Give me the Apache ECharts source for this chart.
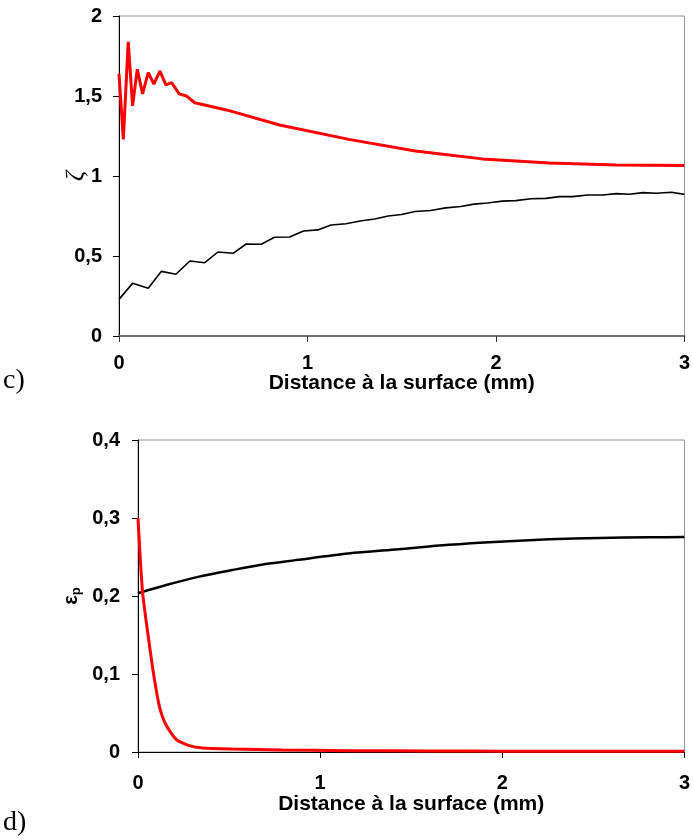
<!DOCTYPE html>
<html>
<head>
<meta charset="utf-8">
<script src="https://cdn.jsdelivr.net/npm/echarts@6/dist/echarts.min.js"></script>
<style>
html,body{margin:0;padding:0;background:#fff;}
#chart{width:693px;height:839px;}
</style>
</head>
<body>
<div id="chart"></div>
<script>
// ---- Data ----
// Chart c) : zeta vs distance (mm)
const zetaRedX = [0, 0.023, 0.049, 0.072, 0.097, 0.125, 0.155, 0.185, 0.217, 0.249, 0.28, 0.319, 0.358, 0.402, 0.57, 0.852, 1.22, 1.572, 1.927, 2.283, 2.638, 3.0];
const zetaRedY = [1.638, 1.229, 1.839, 1.438, 1.667, 1.513, 1.646, 1.575, 1.656, 1.569, 1.583, 1.513, 1.5, 1.458, 1.413, 1.319, 1.229, 1.156, 1.107, 1.082, 1.069, 1.065];
const zetaBlackX = [0, 0.072, 0.155, 0.225, 0.302, 0.376, 0.455, 0.525, 0.605, 0.675, 0.755, 0.825, 0.905, 0.979, 1.055, 1.125, 1.204, 1.287, 1.357, 1.428, 1.499, 1.570, 1.653, 1.733, 1.813, 1.884, 1.955, 2.034, 2.105, 2.185, 2.265, 2.336, 2.407, 2.487, 2.567, 2.638, 2.709, 2.78, 2.851, 2.931, 3.0];
const zetaBlackY = [0.229, 0.329, 0.298, 0.404, 0.386, 0.469, 0.458, 0.525, 0.517, 0.575, 0.573, 0.617, 0.619, 0.656, 0.663, 0.694, 0.702, 0.72, 0.731, 0.75, 0.759, 0.778, 0.784, 0.801, 0.809, 0.824, 0.831, 0.843, 0.846, 0.858, 0.86, 0.871, 0.871, 0.881, 0.881, 0.89, 0.886, 0.896, 0.892, 0.898, 0.885];
// Chart d) : plastic strain vs distance (mm)
const epsRedX = [0, 0.025, 0.064, 0.091, 0.118, 0.154, 0.209, 0.282, 0.355, 0.519, 0.792, 1.156, 1.6, 2.0, 2.5, 3.0];
const epsRedY = [0.3, 0.205, 0.135, 0.092, 0.058, 0.0346, 0.0163, 0.0081, 0.0051, 0.0038, 0.0026, 0.0017, 0.0013, 0.0011, 0.001, 0.001];
const epsBlackX = [0, 0.155, 0.336, 0.518, 0.7, 0.865, 1.154, 1.43, 1.706, 1.982, 2.258, 2.534, 2.81, 3.0];
const epsBlackY = [0.2035, 0.214, 0.2248, 0.2333, 0.241, 0.246, 0.2545, 0.260, 0.2656, 0.2696, 0.2726, 0.2744, 0.2753, 0.2756];
const xAxisTitle = 'Distance à la surface (mm)';

function pairs(xs, ys){ return xs.map((x,i)=>[x, ys[i]]); }
const comma = v => String(v).replace('.', ',');
const FONT = '"Liberation Sans", Arial, sans-serif';

const chart = echarts.init(document.getElementById('chart'), null, {renderer:'canvas'});
const labelStyle = {fontFamily: FONT, fontWeight:'bold', fontSize:20, color:'#000'};
const titleStyle = {fontFamily: FONT, fontWeight:'bold', fontSize:21, color:'#000'};

chart.setOption({
  animation:false,
  backgroundColor:'#fff',
  grid:[
    {left:119, top:16, width:570, height:320, show:true, borderColor:'#909090', borderWidth:1, containLabel:false},
    {left:138, top:440, width:550, height:312, show:true, borderColor:'#909090', borderWidth:1, containLabel:false}
  ],
  xAxis:[
    {gridIndex:0, type:'value', min:0, max:3, interval:1,
     axisLine:{show:true, onZero:false, lineStyle:{color:'#707070', width:2}},
     axisTick:{show:true, inside:false, length:6, lineStyle:{color:'#333'}},
     splitLine:{show:false},
     axisLabel:{...labelStyle, margin:17},
     name:xAxisTitle, nameLocation:'middle', nameGap:37, nameMoveOverlap:false,
     nameTextStyle:{...titleStyle}},
    {gridIndex:1, type:'value', min:0, max:3, interval:1,
     axisLine:{show:true, onZero:false, lineStyle:{color:'#000', width:1}},
     axisTick:{show:true, inside:false, length:6, lineStyle:{color:'#000'}},
     splitLine:{show:false},
     axisLabel:{...labelStyle, margin:21},
     name:xAxisTitle, nameLocation:'middle', nameGap:42, nameMoveOverlap:false,
     nameTextStyle:{...titleStyle}}
  ],
  yAxis:[
    {gridIndex:0, type:'value', min:0, max:2, interval:0.5,
     axisLine:{show:true, onZero:false, lineStyle:{color:'#000', width:1}},
     axisTick:{show:true, inside:false, length:6, lineStyle:{color:'#000'}},
     splitLine:{show:false},
     axisLabel:{...labelStyle, margin:17, formatter:comma},
     name:'ζ', nameLocation:'middle', nameGap:30, nameRotate:90, nameMoveOverlap:false,
     nameTextStyle:{fontFamily:'"Liberation Serif","DejaVu Serif",serif', fontStyle:'italic', fontSize:25, color:'#000'}},
    {gridIndex:1, type:'value', min:0, max:0.4, interval:0.1,
     axisLine:{show:true, onZero:false, lineStyle:{color:'#000', width:1}},
     axisTick:{show:true, inside:false, length:6, lineStyle:{color:'#000'}},
     splitLine:{show:false},
     axisLabel:{...labelStyle, margin:18, formatter:comma},
     name:'{e|ε}{p|p}', nameLocation:'middle', nameGap:55, nameRotate:90, nameMoveOverlap:false,
     nameTextStyle:{fontFamily:FONT, fontWeight:'bold', fontSize:20, color:'#000',
       rich:{e:{fontFamily:FONT, fontWeight:'bold', fontSize:20, color:'#000'},
             p:{fontFamily:FONT, fontWeight:'bold', fontSize:13, color:'#000', padding:[10,0,0,0]}}}}
  ],
  series:[
    {type:'line', xAxisIndex:0, yAxisIndex:0, data:pairs(zetaBlackX, zetaBlackY), showSymbol:false, lineStyle:{color:'#000', width:1.6}, z:3},
    {type:'line', xAxisIndex:0, yAxisIndex:0, data:pairs(zetaRedX, zetaRedY), showSymbol:false, lineStyle:{color:'#ff0000', width:3}, z:4},
    {type:'line', xAxisIndex:1, yAxisIndex:1, data:pairs(epsBlackX, epsBlackY), showSymbol:false, smooth:0.3, lineStyle:{color:'#000', width:2.5}, z:3},
    {type:'line', xAxisIndex:1, yAxisIndex:1, data:pairs(epsRedX, epsRedY), showSymbol:false, smooth:0.2, lineStyle:{color:'#ff0000', width:3}, z:4}
  ],
  graphic:[
    {type:'text', left:3, top:367, style:{text:'c)', fontFamily:'"Liberation Serif","Times New Roman",serif', fontSize:28, fill:'#000'}},
    {type:'text', left:3, top:809, style:{text:'d)', fontFamily:'"Liberation Serif","Times New Roman",serif', fontSize:28, fill:'#000'}}
  ]
});
</script>
</body>
</html>
